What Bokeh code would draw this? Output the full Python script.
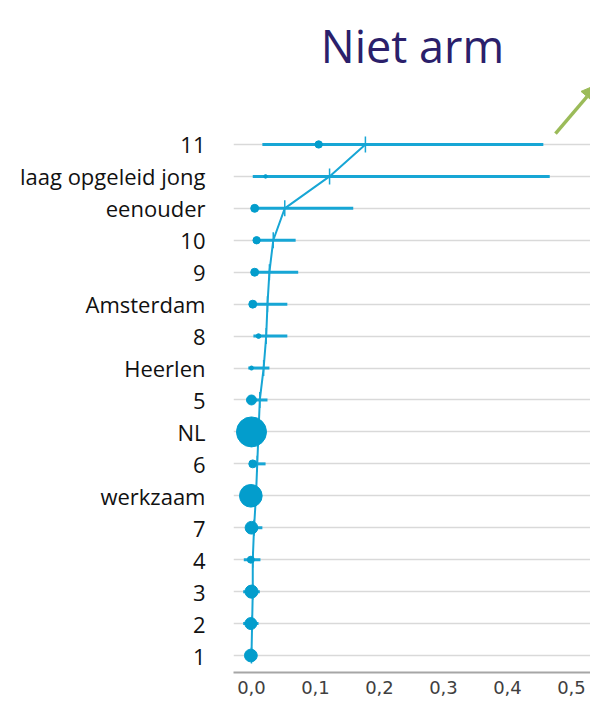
from bokeh.plotting import figure
from bokeh.models import Range1d, FixedTicker, CustomJSTickFormatter, Label, Arrow, NormalHead
from bokeh.embed import file_html
from bokeh.resources import INLINE
import numpy as np

# Rows, bottom to top
labels = ["1", "2", "3", "4", "7", "werkzaam", "6", "NL", "5", "Heerlen",
          "8", "Amsterdam", "9", "10", "eenouder", "laag opgeleid jong", "11"]

# Point estimate per group (dots)
punt = [-0.001, -0.001, 0.000, -0.001, 0.000, -0.001, 0.002, 0.000, 0.000, 0.000,
        0.011, 0.002, 0.005, 0.008, 0.005, 0.022, 0.105]
# Relative group weight (dot area)
gewicht = [18, 16, 19, 5.4, 18, 57, 7, 100, 11, 1.8,
           2.4, 7, 7, 6, 7, 1.4, 6]
# Trend value per group (vertical ticks joined by a line)
lijn = [0.000, 0.001, 0.002, 0.002, 0.004, 0.007, 0.009, 0.011, 0.013, 0.019,
        0.023, 0.025, 0.028, 0.034, 0.052, 0.122, 0.178]
# Interval bounds
ondergrens = [-0.008, -0.013, -0.013, -0.012, -0.009, -0.005, -0.002, 0.005, -0.002, -0.005,
              0.003, 0.000, 0.003, 0.006, 0.005, 0.002, 0.017]
bovengrens = [0.009, 0.011, 0.013, 0.014, 0.017, 0.015, 0.022, 0.018, 0.025, 0.028,
              0.056, 0.056, 0.073, 0.069, 0.159, 0.466, 0.456]

x_ticks = [0.0, 0.1, 0.2, 0.3, 0.4, 0.5]

idx = list(range(len(labels)))
sizes = [3.0 * np.sqrt(w) for w in gewicht]

BLUE = "#17a6d5"
DOT = "#039dcc"
GREEN = "#9bbb59"

p = figure(width=590, height=702,
           x_range=Range1d(-0.0281, 0.5297), y_range=Range1d(-0.532, 20.507),
           output_backend="svg", toolbar_location=None,
           min_border_left=233, min_border_right=0, min_border_top=0, min_border_bottom=30)
p.outline_line_color = None
p.xgrid.visible = False

# y axis: group names
p.yaxis.ticker = FixedTicker(ticks=idx)
p.yaxis.formatter = CustomJSTickFormatter(args=dict(labels=labels),
                                          code="const i = Math.round(tick); return labels[i] ?? '';")
p.yaxis.axis_line_color = None
p.yaxis.major_tick_line_color = None
p.yaxis.minor_tick_line_color = None
p.yaxis.major_label_standoff = 22
p.yaxis.major_label_text_font = "Open Sans"
p.yaxis.major_label_text_font_size = "22px"
p.yaxis.major_label_text_color = "#111111"

p.ygrid.grid_line_color = "#d9d9d9"
p.ygrid.grid_line_width = 1.5

# x axis
p.xaxis.ticker = FixedTicker(ticks=x_ticks)
p.xaxis.formatter = CustomJSTickFormatter(code="return tick.toFixed(1).replace('.', ',');")
p.xaxis.axis_line_color = "#a6a6a6"
p.xaxis.axis_line_width = 2
p.xaxis.major_tick_line_color = None
p.xaxis.minor_tick_line_color = None
p.xaxis.major_tick_out = 0
p.xaxis.major_label_standoff = 8
p.xaxis.major_label_text_font = "DejaVu Sans"
p.xaxis.major_label_text_font_size = "18px"
p.xaxis.major_label_text_color = "#404040"

# intervals
p.segment(x0=ondergrens, y0=idx, x1=bovengrens, y1=idx, line_color=BLUE, line_width=3)
# trend line with vertical ticks
p.line(x=lijn, y=idx, line_color=BLUE, line_width=2)
p.scatter(x=lijn, y=idx, marker="dash", angle=np.pi / 2, size=16,
          line_color=BLUE, line_width=1.5)
# point estimates
p.scatter(x=punt, y=idx, size=sizes, fill_color=DOT, line_color=DOT)

# heading
p.add_layout(Label(x=0.2516, y=19.1, text="Niet arm", text_align="center",
                   text_baseline="alphabetic", text_font="Open Sans",
                   text_font_size="45px", text_color="#2b1f6b"))

# green arrow, top right
p.add_layout(Arrow(end=NormalHead(size=16, fill_color=GREEN, line_color=GREEN),
                   x_start=0.475, y_start=16.34, x_end=0.5406, y_end=17.88,
                   line_color=GREEN, line_width=3.5))

open("out.html", "w").write(file_html(p, INLINE))
